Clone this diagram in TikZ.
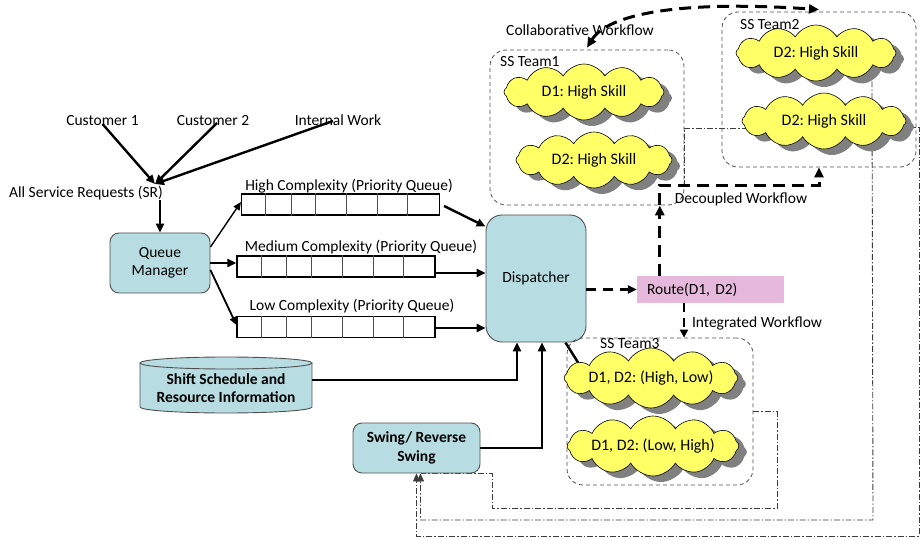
\documentclass[tikz,border=0pt]{standalone}
\usepackage{fontspec}
\setmainfont{Carlito}
\usetikzlibrary{arrows.meta,shapes.symbols,shadows,calc,backgrounds}
\frenchspacing

\definecolor{boxcyan}{RGB}{183,221,226}
\definecolor{boxline}{RGB}{80,80,80}
\definecolor{routepink}{RGB}{230,185,220}
\definecolor{cloudyellow}{RGB}{255,255,102}
\definecolor{shadowgray}{RGB}{128,128,128}
\definecolor{fbline}{RGB}{60,60,60}

\begin{document}
\begin{tikzpicture}[x=1pt,y=-1pt,
  font=\fontsize{15.5}{18.5}\selectfont,
  lbl/.style={inner sep=0pt},
  proc/.style={draw=boxline, line width=0.9pt, fill=boxcyan, rounded corners=9pt, align=center, inner sep=0pt},
  queuebox/.style={draw=black, line width=1.1pt, fill=white, minimum width=198pt, minimum height=21pt, inner sep=0pt},
  team/.style={draw=boxline, line width=0.8pt, dash pattern=on 4pt off 3pt, rounded corners=16pt, inner sep=0pt},
  teamlbl/.style={inner sep=0pt, anchor=west},
  skill/.style={cloud, cloud puffs=12, cloud puff arc=120, cloud ignores aspect, draw=black, line width=0.6pt,
    fill=cloudyellow, inner sep=0pt, font=\fontsize{16}{19}\selectfont,
    drop shadow={shadow xshift=8pt, shadow yshift=-6pt, fill=shadowgray, opacity=1}},
  flow/.style={line width=2.4pt, -{Triangle[length=9pt,width=8pt]}},
  thinflow/.style={line width=1.4pt, -{Triangle[length=8pt,width=7pt]}},
  bigdash/.style={line width=3pt, dash pattern=on 12pt off 7pt, -{Triangle[length=10pt,width=9pt]}},
  fb/.style={draw=fbline, line width=0.9pt, dash pattern=on 6pt off 2pt on 1.5pt off 2pt},
  fbtip/.style={-{Triangle[length=8pt,width=7pt]}},
]
\useasboundingbox (0,0) rectangle (921,540);

% request sources
\node[lbl] (cust1) at (102.5,121) {Customer 1};
\node[lbl] (cust2) at (213,121) {Customer 2};
\node[lbl] (intw) at (338,120) {Internal Work};
\node[lbl] (sr) at (86,193) {All Service Requests (SR)};
\coordinate (srin) at (155,184);

% queue manager and priority queues
\node[proc, minimum width=100pt, minimum height=60pt] (qm) at (160,263) {Queue\\Manager};
\node[queuebox] (hq) at (340.5,204.5) {};
\node[queuebox] (mq) at (336,266.5) {};
\node[queuebox] (lq) at (336,327) {};
\foreach \q in {hq,mq,lq}{
  \foreach \d in {24.5,50,74.5,105.5,136.5,166.5}{
    \draw[line width=0.8pt, draw=black!70] ($(\q.south west)+(\d,0)$) -- ($(\q.north west)+(\d,0)$);
  }
}
\node[lbl] (hql) at (349,186) {High Complexity (Priority Queue)};
\node[lbl] (mql) at (361,247) {Medium Complexity (Priority Queue)};
\node[lbl] (lql) at (352,306) {Low Complexity (Priority Queue)};

% dispatcher and routing
\node[proc, rounded corners=16pt, minimum width=100pt, minimum height=127pt] (disp) at (536,278.5) {Dispatcher};
\node[fill=routepink, minimum width=147pt, minimum height=27pt, text width=127pt,
      inner xsep=10pt, inner ysep=0pt, align=left] (route) at (710.5,289.5) {Route(D1, D2)};

% shift schedule store (cylinder)
\path[fill=boxcyan] (140,363) rectangle (312,407);
\path[fill=boxcyan] (226,407) ellipse [x radius=86, y radius=6];
\draw[boxline, line width=0.9pt] (140,363) -- (140,407) arc[start angle=180, end angle=0, x radius=86, y radius=6] -- (312,363);
\draw[boxline, line width=0.9pt, fill=boxcyan] (226,363) ellipse [x radius=86, y radius=6];
\node[align=center, inner sep=0pt, minimum width=172pt, minimum height=50pt, font=\fontsize{15.5}{18.5}\selectfont\bfseries] (shift) at (226,388) {Shift Schedule and\\Resource Information};

% swing
\node[proc, minimum width=127pt, minimum height=50pt, font=\fontsize{15.5}{18.5}\selectfont\bfseries] (swing) at (416.5,448) {Swing/ Reverse\\Swing};

% self-service teams
\node[team, minimum width=194pt, minimum height=155pt] (team1) at (587,127.5) {};
\node[team, minimum width=194pt, minimum height=155pt] (team2) at (819,89.5) {};
\node[team, minimum width=186pt, minimum height=147pt] (team3) at (660,411.5) {};

\node[skill, minimum width=160pt, minimum height=56pt] (c11) at (584,92) {D1: High Skill};
\node[skill, minimum width=156pt, minimum height=56pt] (c12) at (594,160) {D2: High Skill};
\node[skill, minimum width=160pt, minimum height=56pt] (c21) at (816,53) {D2: High Skill};
\node[skill, minimum width=164pt, minimum height=56pt] (c22) at (824,121) {D2: High Skill};
\node[skill, minimum width=168pt, minimum height=60pt] (c31) at (651,378) {D1, D2: (High, Low)};
\node[skill, minimum width=168pt, minimum height=60pt] (c32) at (653,446) {D1, D2: (Low, High)};

\node[teamlbl] (t1l) at (500,62) {SS Team1};
\node[teamlbl] (t2l) at (740,25) {SS Team2};
\node[teamlbl] (t3l) at (600,344) {SS Team3};

% workflow labels
\node[lbl] (collab) at (580,30) {Collaborative Workflow};
\node[lbl] (decl) at (741,199) {Decoupled Workflow};
\node[lbl] (intl) at (757,323) {Integrated Workflow};

% incoming requests
\draw[flow] ([yshift=-3pt]cust1.center) -- (srin);
\draw[flow] ([xshift=4pt,yshift=-2pt]cust2.center) -- (srin);
\draw[flow] ([xshift=-5pt,yshift=-1pt]intw.center) -- (srin);
\draw[flow] (qm.north |- sr.south) -- (qm.north);

% queue manager to queues
\draw[thinflow] ([yshift=16pt]qm.east) -- ([yshift=2.5pt]hq.west);
\draw[flow] (qm.east) -- (qm.east -| mq.west);
\draw[thinflow, line width=1.8pt] ([yshift=-7pt]qm.east) -- ([yshift=2pt]lq.west);

% queues to dispatcher
\draw[flow] ([xshift=4pt,yshift=-1.5pt]hq.east) -- ($(disp.north west)+(0,12)$);
\draw[flow] ([yshift=-6.5pt]mq.east) -- ([yshift=-6.5pt]mq.east -| disp.west);
\draw[flow] ([yshift=-1pt]lq.east) -- ([yshift=-1pt]lq.east -| disp.west);

% resources into dispatcher
\draw[flow, line width=2.8pt] ([yshift=8pt]shift.east) -| ([xshift=-19pt]disp.south);
\draw[flow, line width=2.8pt] (swing.east) -| ([xshift=6pt]disp.south);

% routing
\draw[line width=2.5pt, dash pattern=on 10pt off 7pt, -{Triangle[length=9pt,width=8pt]}] (disp.east |- route.west) -- (route.west);
\coordinate (d0) at ([xshift=23pt]route.north west);
\coordinate (dturn) at ($(d0 |- team1.south)+(0,-20)$);
\draw[bigdash] (d0) -- (d0 |- team1.south);
\draw[bigdash] (d0 |- team1.south) -- (dturn) -| (team2.south);
\draw[line width=2.5pt, dash pattern=on 9pt off 6pt, -{Triangle[length=8pt,width=8pt]}]
  ([xshift=-26.5pt]route.south) -- ([xshift=-26.5pt]route.south |- team3.north);
\draw[bigdash, {Triangle[length=10pt,width=9pt]}-{Triangle[length=10pt,width=9pt]}]
  ([yshift=2pt]team1.north) .. controls (608,14) and (680,0) .. ([yshift=2pt]team2.north);

\begin{pgfonlayer}{background}
  \coordinate (t3in) at (584,372);
  \draw[line width=2.5pt] ([xshift=-21pt]disp.south east) -- (t3in);
  % feedback to swing
  \draw[fb] (team3.east) -- ++(24,0) |- (492,508) |- ([xshift=4pt]swing.south);
  \draw[fb, fbtip] ([xshift=56pt]c21.south) -- (873,520) -| ([xshift=4pt]swing.south);
  \draw[fb, fbtip] ([yshift=-6pt]c22.east) -- (919,127) -- (919,536) -| (swing.south);
  \draw[fb] ([xshift=6pt,yshift=-7pt]c22.west) -| (team1.east |- dturn);
\end{pgfonlayer}
\end{tikzpicture}
\end{document}
